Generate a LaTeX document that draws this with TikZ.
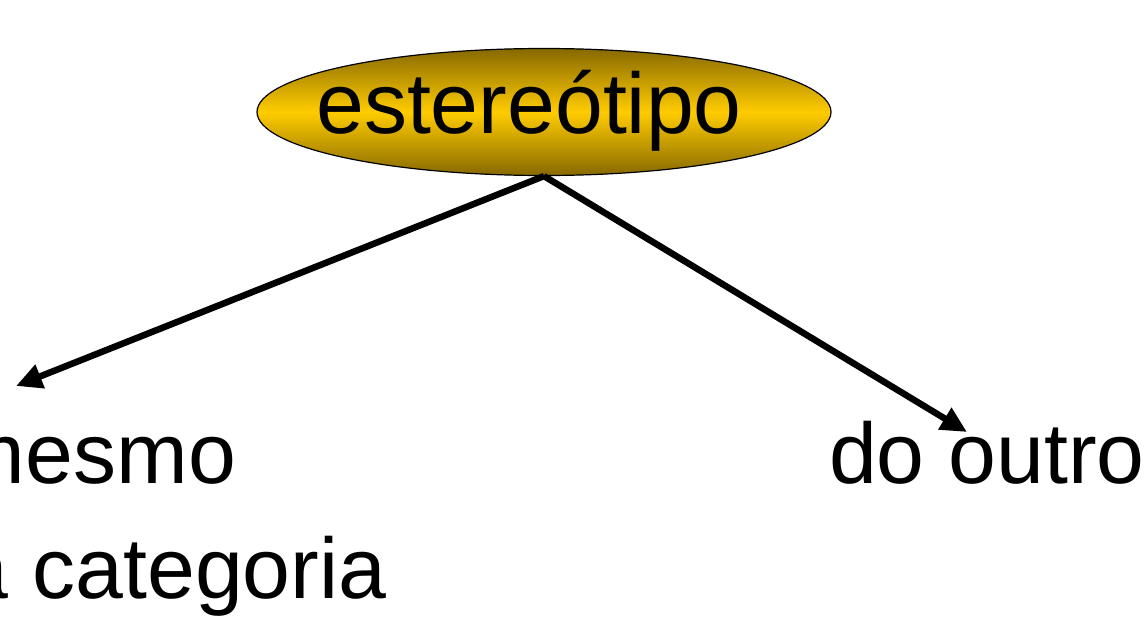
\documentclass[tikz,border=0pt]{standalone}
\usepackage{fontspec}
\setmainfont{Liberation Sans}
\usetikzlibrary{shapes.geometric,arrows.meta}
\definecolor{darkgold}{RGB}{135,105,0}
\definecolor{brightgold}{RGB}{255,204,0}
\tikzset{
  bubble/.style={ellipse, draw=black, line width=1.2pt, minimum width=574pt, minimum height=127pt, inner sep=0pt,
    top color=darkgold, bottom color=darkgold, middle color=brightgold, shading angle=0},
  bigtext/.style={font=\fontsize{86}{100}\selectfont, inner sep=0pt, outer sep=0pt},
  conn/.style={line width=6.5pt, -{Triangle[length=26pt,width=24pt]}}
}
\begin{document}
\begin{tikzpicture}[x=1pt,y=-1pt]
\useasboundingbox (0,0) rectangle (1148,618);
\clip (0,0) rectangle (1148,618);
\node[bubble] (est) at (544,112) {};
\node[bigtext, anchor=base] (estt) at (529,133) {estereótipo};
\node[bigtext, anchor=base west] (l1) at (-46,483) {mesmo};
\node[bigtext, anchor=base west] (l2) at (-39,598) {a categoria};
\node[bigtext, anchor=base west] (r1) at (829,483) {do outro};
\coordinate (lt) at (16,386);
\coordinate (rt) at (967,432);
\draw[conn] (est.south) -- (lt);
\draw[conn] (est.south) -- (rt);
\end{tikzpicture}
\end{document}
